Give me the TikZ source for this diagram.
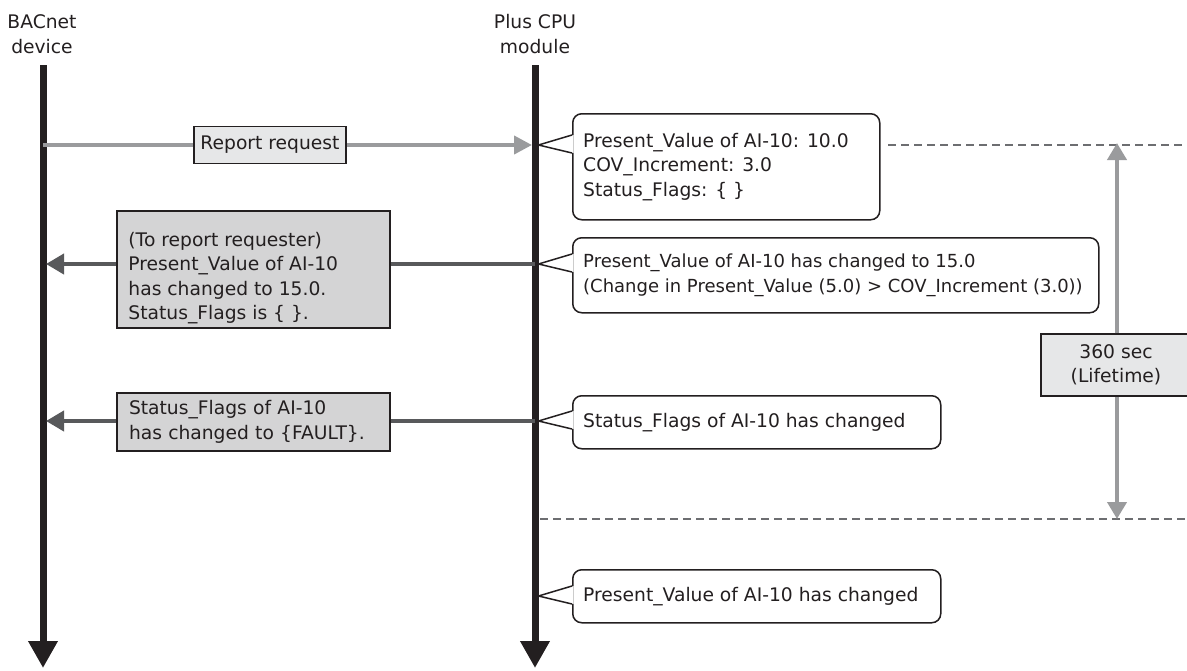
\documentclass[tikz,border=0pt]{standalone}
\usepackage{fontspec}
\setmainfont{DejaVu Sans}
\usetikzlibrary{arrows.meta}
\definecolor{lifec}{HTML}{231F20}
\definecolor{reqc}{HTML}{9A9B9D}
\definecolor{respc}{HTML}{58595B}
\definecolor{lightbox}{HTML}{E6E7E8}
\definecolor{darkbox}{HTML}{D4D4D5}
\definecolor{dashc}{HTML}{6D6E71}
\begin{document}
\begin{tikzpicture}[x=1pt,y=-1pt,
  font=\fontsize{18.7}{24.5}\selectfont, text=lifec,
  lifeline/.style={line width=7pt, draw=lifec, -{Triangle[width=28pt,length=27pt]}},
  reqline/.style={line width=4pt, draw=reqc},
  reqtip/.style={-{Triangle[width=18pt,length=18pt]}},
  respline/.style={line width=4pt, draw=respc},
  resptip/.style={-{Triangle[width=20pt,length=18pt]}},
  lightbx/.style={draw=lifec, line width=1.5pt, fill=lightbox, align=center, inner sep=0pt},
  darkbx/.style={draw=lifec, line width=1.5pt, fill=darkbox, align=left, inner xsep=12pt, inner ysep=0pt},
  boxtext/.style={align=left, inner sep=0pt, anchor=north west},
  calltext/.style={align=left, inner sep=0pt, anchor=west},
  callbox/.style={draw=lifec, line width=1.5pt, fill=white, rounded corners=9pt, inner sep=0pt, anchor=north west},
  pointer/.style={draw=lifec, line width=1.5pt},
  dashline/.style={draw=dashc, line width=1.2pt, dash pattern=on 8pt off 5pt},
  header/.style={align=center, inner sep=0pt}
]
\useasboundingbox (0,0) rectangle (1187,670);

% headers
\node[header] (bac) at (42,34) {BACnet\\device};
\node[header] (cpu) at (535,34) {Plus CPU\\module};

% lifelines
\coordinate (L0) at (43,65);
\coordinate (L1) at (43,668);
\coordinate (R0) at (535,65);
\coordinate (R1) at (535,668);
\draw[lifeline] (L0) -- (L1);
\draw[lifeline] (R0) -- (R1);

% report request
\coordinate (rqs) at (43,145);
\coordinate (rqe) at (532,145);
\draw[reqline, reqtip] (rqs) -- (rqe);
\node[lightbx, minimum width=152pt, minimum height=37pt] (rr) at (270,145) {Report request};

% response 1
\coordinate (r1s) at (535,264);
\coordinate (r1e) at (46,264);
\draw[respline, resptip] (r1s) -- (r1e);
\node[darkbx, minimum width=273pt, minimum height=117pt, anchor=north] (b2) at (253.5,210) {};
\node[boxtext] (b2t) at ([xshift=12pt, yshift=-22pt]b2.north west)
  {(To report requester)\\Present\_Value of AI-10\\has changed to 15.0.\\Status\_Flags is \{ \}.};

% response 2
\coordinate (r2s) at (535,421);
\coordinate (r2e) at (46,421);
\draw[respline, resptip] (r2s) -- (r2e);
\node[darkbx, minimum width=273pt, minimum height=58pt, text width=249pt] (b3) at (253.5,422)
  {Status\_Flags of AI-10\\has changed to \{FAULT\}.};

% callouts
\node[callbox, minimum width=307pt, minimum height=106pt] (c1) at (572,113) {};
\node[callbox, minimum width=526pt, minimum height=75pt] (c2) at (572,237) {};
\node[callbox, minimum width=368pt, minimum height=53pt] (c3) at (572,395) {};
\node[callbox, minimum width=368pt, minimum height=53pt] (c4) at (572,569) {};

\node[calltext] (c1t) at ([xshift=11pt]c1.west)
  {Present\_Value of AI-10: 10.0\\COV\_Increment: 3.0\\Status\_Flags: \{ \}};
\node[calltext, font=\fontsize{18}{24.5}\selectfont] (c2t) at ([xshift=11pt]c2.west)
  {Present\_Value of AI-10 has changed to 15.0\\(Change in Present\_Value (5.0) > COV\_Increment (3.0))};
\node[calltext] (c3t) at ([xshift=11pt]c3.west) {Status\_Flags of AI-10 has changed};
\node[calltext] (c4t) at ([xshift=11pt]c4.west) {Present\_Value of AI-10 has changed};

\foreach \n/\y in {c1/145, c2/264, c3/421, c4/596}{
  \coordinate (\n apex) at (538.5,\y);
  \fill[white] (573.6,\y-10) -- (\n apex) -- (573.6,\y+8) -- cycle;
  \draw[pointer] (572,\y-10) -- (\n apex) -- (572,\y+8);
}

% dashed lifetime bounds
\coordinate (d1s) at (888,145);
\coordinate (d1e) at (1187,145);
\coordinate (d2s) at (540,519);
\coordinate (d2e) at (1187,519);
\draw[dashline] (d1s) -- (d1e);
\draw[dashline] (d2s) -- (d2e);

% lifetime
\node[lightbx, minimum width=150pt, minimum height=62pt] (lt) at (1116,365) {360 sec\\(Lifetime)};
\coordinate (ltt) at (1117,143);
\coordinate (ltb) at (1117,519);
\draw[reqline, -{Triangle[width=19pt,length=17pt]}] (lt.north -| ltt) -- (ltt);
\draw[reqline, -{Triangle[width=19pt,length=17pt]}] (lt.south -| ltb) -- (ltb);
\end{tikzpicture}
\end{document}
